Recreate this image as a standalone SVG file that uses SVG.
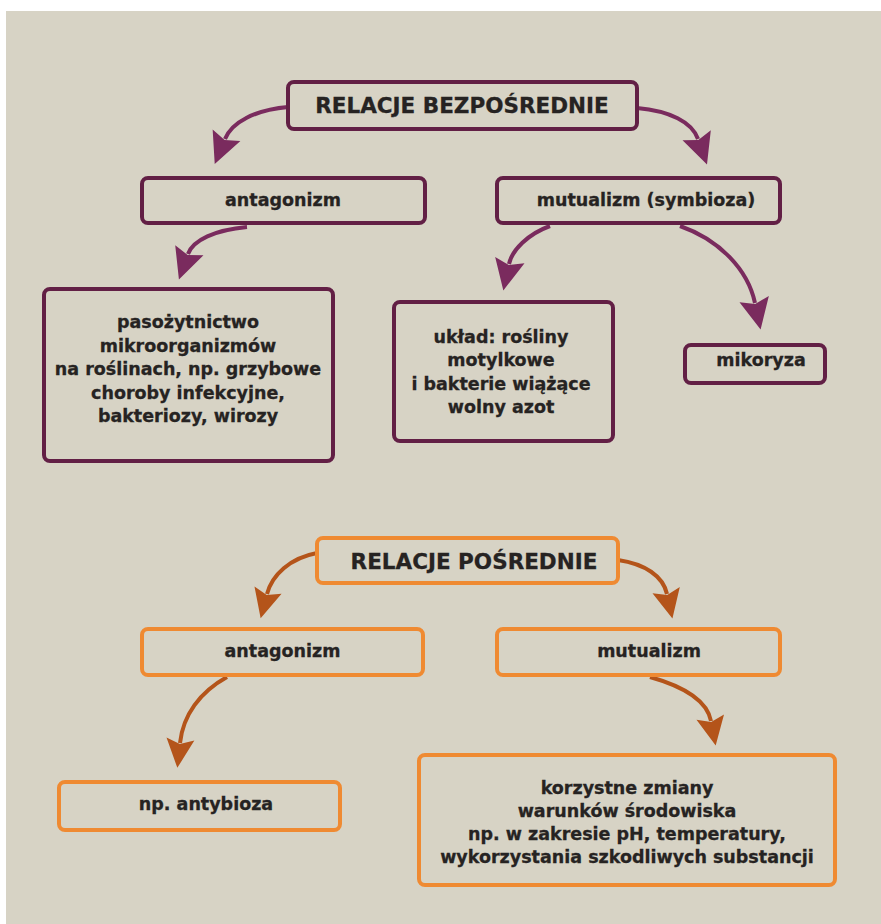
<svg xmlns="http://www.w3.org/2000/svg" width="881" height="924" viewBox="0 0 881 924">
<style>
.bg{fill:#d7d3c5}
.bp{fill:#d7d3c5;stroke:#621f45;stroke-width:4}
.bo{fill:#d7d3c5;stroke:#ef8a32;stroke-width:4}
.t{font-family:"DejaVu Sans","Liberation Sans",sans-serif;font-weight:bold;font-size:17.5px;fill:#262322;stroke:#262322;stroke-width:0.3;text-anchor:middle}
.h{font-size:21.5px}
.ap{fill:none;stroke:#7a2b5e;stroke-width:4}
.ao{fill:none;stroke:#b4541a;stroke-width:4}
</style>
<defs>
<marker id="mp" markerUnits="userSpaceOnUse" markerWidth="40" markerHeight="40" refX="4" refY="0" orient="auto" overflow="visible">
<path d="M0,-15 L31,0 L0,15 L5,0 Z" fill="#7a2b5e"/>
</marker>
<marker id="mo" markerUnits="userSpaceOnUse" markerWidth="40" markerHeight="40" refX="4" refY="0" orient="auto" overflow="visible">
<path d="M0,-14 L29,0 L0,14 L5,0 Z" fill="#b4541a"/>
</marker>
</defs>
<rect width="881" height="924" fill="#ffffff"/>
<rect class="bg" x="6" y="11" width="875" height="913"/>
<g id="connectors">
<path class="ap" d="M288,107 C255,110 232,122 225,139" marker-end="url(#mp)"/>
<path class="ap" d="M637,108 C670,111 692,122 698,139" marker-end="url(#mp)"/>
<path class="ap" d="M247,227 C215,230 193,240 188,254" marker-end="url(#mp)"/>
<path class="ap" d="M550,226 C528,234 512,250 509,264" marker-end="url(#mp)"/>
<path class="ap" d="M680,226 C720,240 748,270 755,303" marker-end="url(#mp)"/>
<path class="ao" d="M317,553 C290,558 272,575 267,594" marker-end="url(#mo)"/>
<path class="ao" d="M618,560 C645,564 663,576 667,594" marker-end="url(#mo)"/>
<path class="ao" d="M227,677 C200,692 183,715 180,743" marker-end="url(#mo)"/>
<path class="ao" d="M650,677 C682,686 707,700 711,721" marker-end="url(#mo)"/>
</g>
<g id="relacje-bezposrednie">
<rect class="bp" x="288" y="82" width="349" height="47" rx="6"/>
<text class="t h" x="462" y="113">RELACJE BEZPOŚREDNIE</text>
</g>
<g id="antagonizm-1">
<rect class="bp" x="142" y="178" width="283" height="45" rx="6"/>
<text class="t" x="283" y="206">antagonizm</text>
</g>
<g id="mutualizm-1">
<rect class="bp" x="497" y="178" width="283" height="45" rx="6"/>
<text class="t" x="646" y="206">mutualizm (symbioza)</text>
</g>
<g id="pasozytnictwo">
<rect class="bp" x="44" y="289" width="289" height="172" rx="6"/>
<text class="t" x="188" y="328">pasożytnictwo</text>
<text class="t" x="188" y="351.5">mikroorganizmów</text>
<text class="t" x="188" y="375">na roślinach, np. grzybowe</text>
<text class="t" x="188" y="398.5">choroby infekcyjne,</text>
<text class="t" x="188" y="422">bakteriozy, wirozy</text>
</g>
<g id="uklad">
<rect class="bp" x="394" y="302" width="219" height="139" rx="6"/>
<text class="t" x="501" y="343">układ: rośliny</text>
<text class="t" x="501" y="366">motylkowe</text>
<text class="t" x="501" y="389.5">i bakterie wiążące</text>
<text class="t" x="501" y="413">wolny azot</text>
</g>
<g id="mikoryza">
<rect class="bp" x="685" y="345" width="140" height="38" rx="6"/>
<text class="t" x="761" y="366">mikoryza</text>
</g>
<g id="relacje-posrednie">
<rect class="bo" x="317" y="538" width="301" height="45" rx="6"/>
<text class="t h" x="474" y="569">RELACJE POŚREDNIE</text>
</g>
<g id="antagonizm-2">
<rect class="bo" x="142" y="629" width="281" height="46" rx="6"/>
<text class="t" x="282.5" y="657">antagonizm</text>
</g>
<g id="mutualizm-2">
<rect class="bo" x="497" y="629" width="283" height="46" rx="6"/>
<text class="t" x="649" y="657">mutualizm</text>
</g>
<g id="antybioza">
<rect class="bo" x="59" y="782" width="281" height="48" rx="6"/>
<text class="t" x="206" y="810">np. antybioza</text>
</g>
<g id="korzystne">
<rect class="bo" x="419" y="755" width="416" height="130" rx="6"/>
<text class="t" x="627" y="794">korzystne zmiany</text>
<text class="t" x="627" y="817">warunków środowiska</text>
<text class="t" x="627" y="840">np. w zakresie pH, temperatury,</text>
<text class="t" x="627" y="863">wykorzystania szkodliwych substancji</text>
</g>
</svg>
